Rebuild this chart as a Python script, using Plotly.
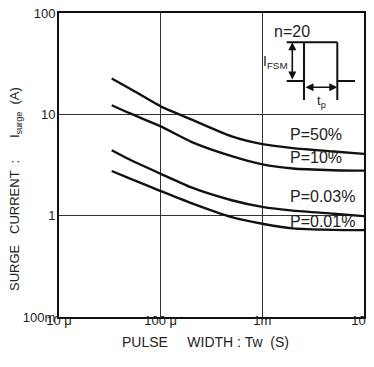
import plotly.graph_objects as go

# Pulse width (s)
pulse_width = [3.3e-5, 5e-5, 1e-4, 2e-4, 5e-4, 1e-3, 2e-3, 5e-3, 1e-2]
# Surge current (A) per duty cycle
i_p50 = [22.6, 17.9, 12.0, 8.91, 6.06, 5.08, 4.64, 4.30, 4.07]
i_p10 = [12.3, 10.2, 7.60, 5.36, 3.87, 3.21, 2.92, 2.81, 2.78]
i_p003 = [4.42, 3.56, 2.59, 1.90, 1.42, 1.22, 1.12, 1.045, 0.99]
i_p001 = [2.76, 2.32, 1.75, 1.33, 0.967, 0.833, 0.749, 0.724, 0.720]

series_labels = ["P=50%", "P=10%", "P=0.03%", "P=0.01%"]
x_tickvals = [1e-5, 1e-4, 1e-3, 1e-2]
x_ticktext = ["10 μ", "100 μ", "1m", "10m"]
y_tickvals = [0.1, 1, 10, 100]
y_ticktext = ["100m", "1", "10", "100"]

OFF = 8  # page body margin of the html page
W, H = 374 - OFF, 367 - OFF
# plot box on screen: x 59..364, y 13..317
L, T = 59 - OFF, 13 - OFF
PW, PH = 305, 304
R, B = W - L - PW, H - T - PH
FONT = "Liberation Sans, Arial, sans-serif"
TXT = "#222"


def px(x):
    return (x - 59) / PW


def py(y):
    return (317 - y) / PH


def note(x, y, text, size, **kw):
    opts = dict(xanchor="center", yanchor="middle")
    opts.update(kw)
    fig.add_annotation(xref="paper", yref="paper", x=px(x), y=py(y), text=text,
                       showarrow=False, font=dict(family=FONT, size=size, color=TXT),
                       **opts)


fig = go.Figure()
for ys in [i_p50, i_p10, i_p003, i_p001]:
    fig.add_trace(go.Scatter(x=pulse_width, y=ys, mode="lines",
                             line=dict(color="#111", width=2.4, shape="spline", smoothing=0.6),
                             showlegend=False, hoverinfo="skip"))

label_y = [134, 157, 196, 221]
for txt, yy in zip(series_labels, label_y):
    note(288, yy, txt, 16, xanchor="left")

# Inset pulse diagram
line = dict(color="#111", width=2)
segs = [
    (286.7, 42.3, 337.3, 42.3),
    (304, 42.3, 304, 100),
    (337.3, 42.3, 337.3, 100),
    (286.7, 81, 304, 81),
    (337.3, 81, 355, 81),
]
for x0, y0, x1, y1 in segs:
    fig.add_shape(type="line", xref="paper", yref="paper",
                  x0=px(x0), y0=py(y0), x1=px(x1), y1=py(y1), line=line)

fig.add_annotation(xref="paper", yref="paper", x=px(292.3), y=py(42.3),
                   ax=0, ay=38.7, text="", showarrow=True, arrowside="end+start",
                   arrowhead=2, arrowsize=1, arrowwidth=1.6, arrowcolor="#111")
fig.add_annotation(xref="paper", yref="paper", x=px(337.3), y=py(87.3),
                   ax=-33.3, ay=0, text="", showarrow=True, arrowside="end+start",
                   arrowhead=2, arrowsize=1, arrowwidth=1.6, arrowcolor="#111")
note(292, 31, "n=20", 16)
note(290, 62, "I<sub>FSM</sub>", 14, xanchor="right")
note(321, 101, "t<sub>p</sub>", 13)

# Axis titles
note(15, 189, "SURGE   CURRENT  :      I<sub>surge</sub>  (A)", 13, textangle=-90)
note(205.5, 341.5, "PULSE     WIDTH : Tw  (S)", 14)

axis_common = dict(showline=True, linecolor="#111", linewidth=2, mirror=True,
                   showgrid=True, gridcolor="#333", gridwidth=1, ticks="",
                   zeroline=False, automargin=False, ticklabeloverflow="allow",
                   tickfont=dict(family=FONT, size=13, color=TXT))
fig.update_xaxes(type="log", range=[-5, -2], tickvals=x_tickvals, ticktext=x_ticktext,
                 ticklabelstandoff=-10, **axis_common)
fig.update_yaxes(type="log", range=[-1, 2], tickvals=y_tickvals, ticktext=y_ticktext,
                 ticklabelstandoff=-1, **axis_common)
fig.update_layout(width=W, height=H, margin=dict(l=L, r=R, t=T, b=B),
                  paper_bgcolor="white", plot_bgcolor="white", showlegend=False)

fig.write_html("out.html")
